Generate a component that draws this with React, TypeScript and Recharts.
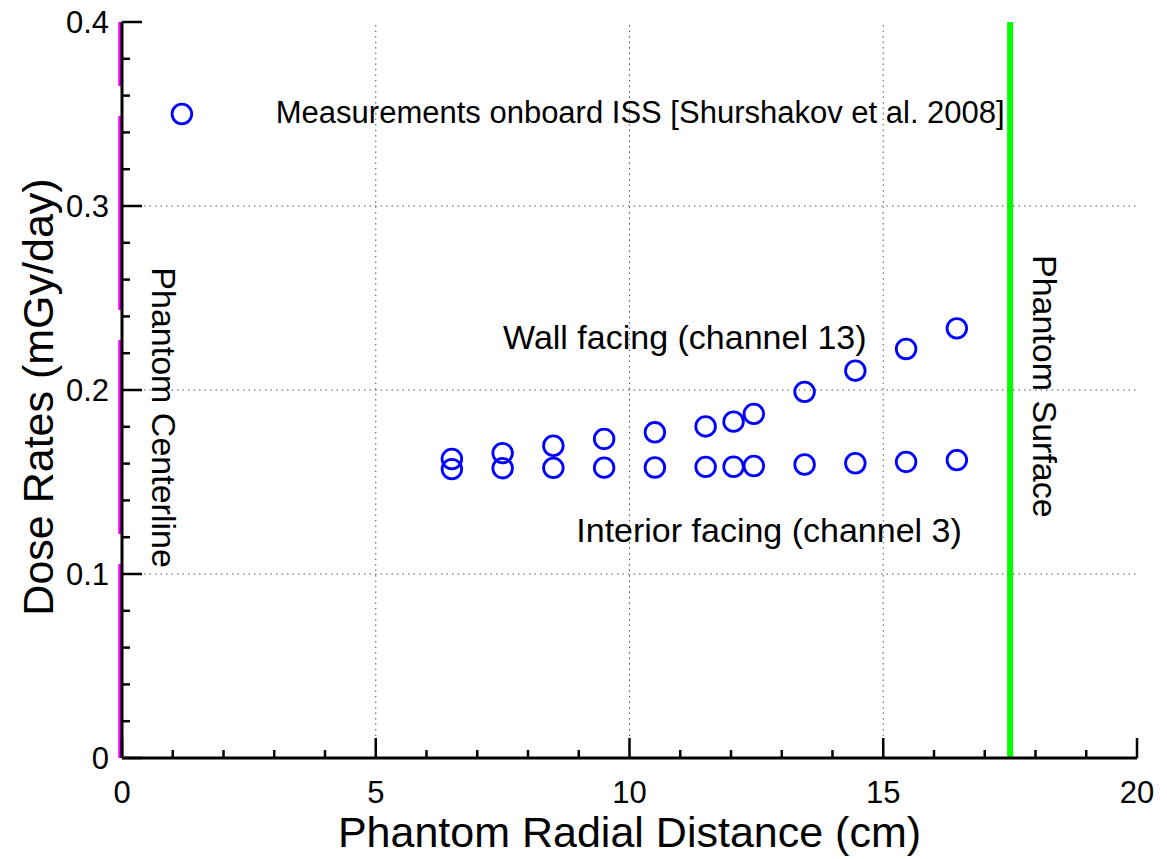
import React from "react"
import { ScatterChart, Scatter, XAxis, YAxis, ReferenceLine, ReferenceDot, Label } from "recharts"

// axis ticks (minor + major)
const xTicks = [0, 1, 2, 3, 4, 5, 6, 7, 8, 9, 10, 11, 12, 13, 14, 15, 16, 17, 18, 19, 20]
const xMajor = [0, 5, 10, 15, 20]
const yTicks = [0, 0.02, 0.04, 0.06, 0.08, 0.1, 0.12, 0.14, 0.16, 0.18, 0.2, 0.22, 0.24, 0.26, 0.28, 0.3, 0.32, 0.34, 0.36, 0.38, 0.4]
const yMajor = [0, 0.1, 0.2, 0.3, 0.4]
const xGrid = [5, 10, 15]
const yGrid = [0.1, 0.2, 0.3]

// measurement data
const distances = [6.5, 7.5, 8.5, 9.5, 10.5, 11.5, 12.05, 12.45, 13.45, 14.45, 15.45, 16.45]
const wallFacing = [0.1625, 0.1657, 0.1697, 0.1734, 0.177, 0.1802, 0.1828, 0.187, 0.199, 0.2105, 0.2223, 0.2335]
const interiorFacing = [0.157, 0.1575, 0.1577, 0.1578, 0.1579, 0.1582, 0.1583, 0.1587, 0.1595, 0.1602, 0.1609, 0.1619]
const legendMarker = [{ x: 1.18, y: 0.35 }]

const centerline = 0
const surface = 17.5

const wallData = distances.map((x, i) => ({ x, y: wallFacing[i] }))
const interiorData = distances.map((x, i) => ({ x, y: interiorFacing[i] }))

const FONT = "'Liberation Sans', Arial, Helvetica, sans-serif"

const notes = [
  { text: "Measurements onboard ISS [Shurshakov et al. 2008]", x: 3.03, y: 0.351, anchor: "start", rot: 0, size: 31 },
  { text: "Wall facing (channel 13)", x: 11.09, y: 0.229, anchor: "middle", rot: 0, size: 34 },
  { text: "Interior facing (channel 3)", x: 12.75, y: 0.124, anchor: "middle", rot: 0, size: 34 },
  { text: "Phantom Centerline", x: 0.83, y: 0.185, anchor: "middle", rot: 90, size: 34 },
  { text: "Phantom Surface", x: 18.19, y: 0.202, anchor: "middle", rot: 90, size: 34 },
]

const Ring = (props: any) => {
  const { cx, cy } = props
  if (cx == null || cy == null) return null
  return <circle cx={cx} cy={cy} r={9.8} fill="none" stroke="#0000ff" strokeWidth={2.8} />
}

const MINOR = 8
const MAJOR = 20

function makeTick(side: "bottom" | "top" | "left" | "right") {
  return (props: any) => {
    const { x, y, payload } = props
    const v = payload.value
    const major = side === "bottom" || side === "top" ? xMajor.includes(v) : yMajor.includes(v)
    const len = major ? MAJOR : MINOR
    let line
    if (side === "bottom") line = <line x1={x} x2={x} y1={y} y2={y - len} />
    else if (side === "top") line = <line x1={x} x2={x} y1={y} y2={y + len} />
    else if (side === "left") line = <line x1={x} x2={x + len} y1={y} y2={y} />
    else line = <line x1={x} x2={x - len} y1={y} y2={y} />
    return (
      <g stroke="#000" strokeWidth={2.5}>
        {line}
        {major && side === "bottom" && (
          <text x={x} y={y + 45} textAnchor="middle" fontSize={31} fontFamily={FONT} fill="#000" stroke="none">
            {String(v)}
          </text>
        )}
        {major && side === "left" && (
          <text x={x - 13} y={y} dy="0.355em" textAnchor="end" fontSize={31} fontFamily={FONT} fill="#000" stroke="none">
            {String(v)}
          </text>
        )}
      </g>
    )
  }
}

const NoteShape = (note: (typeof notes)[number]) => (props: any) => {
  const { cx, cy } = props
  return (
    <text
      x={cx}
      y={cy}
      dy="0.355em"
      textAnchor={note.anchor as any}
      fontSize={note.size}
      fontFamily={FONT}
      fill="#000"
      transform={note.rot ? `rotate(${note.rot} ${cx} ${cy})` : undefined}
    >
      {note.text}
    </text>
  )
}

const MagentaLine = (props: any) => {
  const { x1, y1, x2, y2 } = props
  return <line x1={x1 - 2} x2={x2 - 2} y1={Math.max(y1, y2)} y2={Math.min(y1, y2)} stroke="#ff00ff" strokeWidth={3.5} strokeDasharray="194 30" />
}

export default function App() {
  return (
    <div style={{ position: "absolute", left: 0, top: 0, width: 1167, height: 859, background: "#fff" }}>
      <ScatterChart width={1167} height={859} margin={{ top: 22, right: 30, bottom: 0, left: 0 }}>
        <XAxis
          xAxisId="b"
          type="number"
          dataKey="x"
          domain={[0, 20]}
          ticks={xTicks}
          interval={0}
          allowDataOverflow
          height={101}
          tickSize={0}
          tickMargin={0}
          tickLine={false}
          axisLine={{ stroke: "#000", strokeWidth: 3 }}
          tick={makeTick("bottom")}
        >
          <Label
            content={(p: any) => {
              const vb = p.viewBox
              return (
                <text x={vb.x + vb.width / 2} y={vb.y + 89} textAnchor="middle" fontSize={43} fontFamily={FONT} fill="#000">
                  Phantom Radial Distance (cm)
                </text>
              )
            }}
          />
        </XAxis>
        <XAxis
          xAxisId="t"
          orientation="top"
          type="number"
          dataKey="x"
          domain={[0, 20]}
          ticks={xTicks}
          interval={0}
          allowDataOverflow
          height={0}
          tickSize={0}
          tickMargin={0}
          tickLine={false}
          axisLine={{ stroke: "#000", strokeWidth: 3 }}
          tick={makeTick("top")}
        />
        <YAxis
          yAxisId="l"
          type="number"
          dataKey="y"
          domain={[0, 0.4]}
          ticks={yTicks}
          interval={0}
          allowDataOverflow
          width={122}
          tickSize={0}
          tickMargin={0}
          tickLine={false}
          axisLine={{ stroke: "#000", strokeWidth: 3 }}
          tick={makeTick("left")}
        >
          <Label
            content={(p: any) => {
              const vb = p.viewBox
              const cx = vb.x + 38
              const cy = vb.y + vb.height / 2 + 7
              return (
                <text x={cx} y={cy} dy="0.355em" textAnchor="middle" fontSize={43} fontFamily={FONT} fill="#000" transform={`rotate(-90 ${cx} ${cy})`}>
                  Dose Rates (mGy/day)
                </text>
              )
            }}
          />
        </YAxis>
        <YAxis
          yAxisId="r"
          orientation="right"
          type="number"
          dataKey="y"
          domain={[0, 0.4]}
          ticks={yTicks}
          interval={0}
          allowDataOverflow
          width={0}
          tickSize={0}
          tickMargin={0}
          tickLine={false}
          axisLine={{ stroke: "#000", strokeWidth: 3 }}
          tick={makeTick("right")}
        />

        {xGrid.map((v) => (
          <ReferenceLine key={"gx" + v} xAxisId="b" yAxisId="l" x={v} stroke="#555" strokeWidth={1} strokeDasharray="1.5 4" />
        ))}
        {yGrid.map((v) => (
          <ReferenceLine key={"gy" + v} xAxisId="b" yAxisId="l" y={v} stroke="#555" strokeWidth={1} strokeDasharray="1.5 4" />
        ))}

        <ReferenceLine xAxisId="b" yAxisId="l" x={surface} stroke="#00ff00" strokeWidth={6} />
        <ReferenceLine xAxisId="b" yAxisId="l" x={centerline} shape={MagentaLine} />

        {notes.map((n) => (
          <ReferenceDot key={n.text} xAxisId="b" yAxisId="l" x={n.x} y={n.y} r={0} ifOverflow="visible" shape={NoteShape(n)} />
        ))}

        <Scatter xAxisId="b" yAxisId="l" data={wallData} shape={Ring} isAnimationActive={false} />
        <Scatter xAxisId="b" yAxisId="l" data={interiorData} shape={Ring} isAnimationActive={false} />
        <Scatter xAxisId="b" yAxisId="l" data={legendMarker} shape={Ring} isAnimationActive={false} />
      </ScatterChart>
    </div>
  )
}
